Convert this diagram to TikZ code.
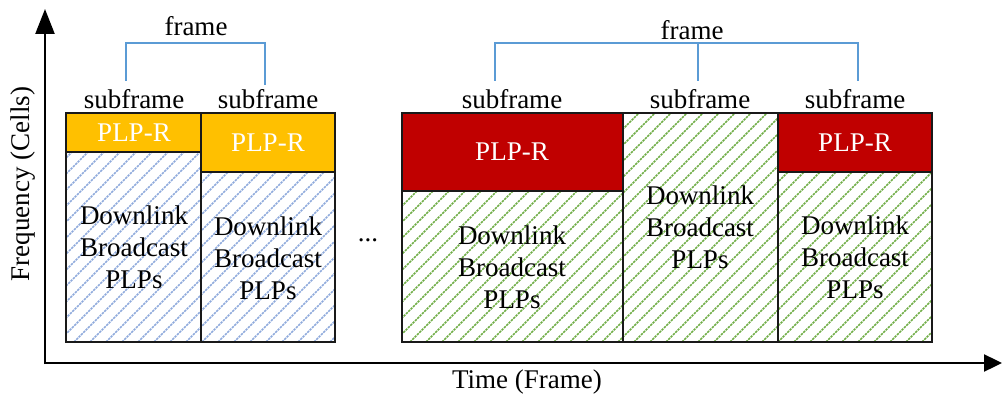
\documentclass[tikz,border=0pt]{standalone}
\usepackage{fontspec}
\setmainfont{Liberation Serif}
\usetikzlibrary{arrows.meta}

\definecolor{plpgold}{HTML}{FFC000}
\definecolor{plpred}{HTML}{C00000}
\definecolor{hatchblue}{HTML}{8FAADC}
\definecolor{hatchgreen}{HTML}{70AD47}
\definecolor{bracketblue}{HTML}{5B9BD5}

% diagonal hatching of a rectangle: x1, y1, x2, y2, colour
\newcommand\hatchrect[5]{%
  \begin{scope}
    \clip (#1,#2) rectangle (#3,#4);
    \foreach \c in {0,16,...,1408}
      \draw[#5, line width=1.5pt, dash pattern=on 2.4pt off 0.9pt] (\c-#4,#4) -- (\c-#2,#2);
  \end{scope}}

\tikzset{
  lbl/.style={font=\fontsize{27}{32}\selectfont, inner sep=0pt},
  bodytext/.style={lbl, align=center},
  plptext/.style={lbl, text=white},
  boxline/.style={draw=black!90, line width=1.5pt},
  axisline/.style={line width=2.4pt},
  bracket/.style={draw=bracketblue, line width=2.4pt},
}

\begin{document}
\begin{tikzpicture}[x=1pt, y=-1pt]
\useasboundingbox (0,0) rectangle (1002,396);

% ---- coloured regions ----
\fill[plpgold] (66,113) rectangle (201,152);
\hatchrect{66}{152}{201}{342}{hatchblue}
\fill[plpgold] (201,113) rectangle (335,172);
\hatchrect{201}{172}{335}{342}{hatchblue}
\fill[plpred] (402,113) rectangle (623,191);
\hatchrect{402}{191}{623}{342}{hatchgreen}
\hatchrect{623}{113}{778}{342}{hatchgreen}
\fill[plpred] (778,113) rectangle (932,172);
\hatchrect{778}{172}{932}{342}{hatchgreen}

% ---- subframe outlines ----
\draw[boxline] (66,113) rectangle (201,342);
\draw[boxline] (66,152) -- (201,152);
\draw[boxline] (201,113) rectangle (335,342);
\draw[boxline] (201,172) -- (335,172);
\draw[boxline] (402,113) rectangle (623,342);
\draw[boxline] (402,191) -- (623,191);
\draw[boxline] (623,113) rectangle (778,342);
\draw[boxline] (778,113) rectangle (932,342);
\draw[boxline] (778,172) -- (932,172);

% ---- texts inside subframes ----
\node[plptext] (r1) at (134,133) {PLP-R};
\node[plptext] (r2) at (268,143) {PLP-R};
\node[plptext] (r3) at (512,152) {PLP-R};
\node[plptext] (r5) at (855,143) {PLP-R};
\node[bodytext] (d1) at (134,247) {Downlink\\Broadcast\\PLPs};
\node[bodytext] (d2) at (268,258) {Downlink\\Broadcast\\PLPs};
\node[bodytext] (d3) at (512,267) {Downlink\\Broadcast\\PLPs};
\node[bodytext] (d4) at (700,227) {Downlink\\Broadcast\\PLPs};
\node[bodytext] (d5) at (855,257) {Downlink\\Broadcast\\PLPs};

% ---- subframe labels ----
\node[lbl, anchor=base] (s1) at (134,109) {subframe};
\node[lbl, anchor=base] (s2) at (268,109) {subframe};
\node[lbl, anchor=base] (s3) at (512,109) {subframe};
\node[lbl, anchor=base] (s4) at (700,109) {subframe};
\node[lbl, anchor=base] (s5) at (855,109) {subframe};

% ---- frame brackets ----
\node[lbl, anchor=base] (f1) at (196,36) {frame};
\node[lbl, anchor=base] (f2) at (692,40) {frame};
\coordinate (a1) at (126,81);
\coordinate (a2) at (265,85);
\draw[bracket] (a1) |- (195,43) -| (a2);
\coordinate (c1) at (495,81);
\coordinate (c2) at (698,81);
\coordinate (c3) at (858,81);
\draw[bracket] (c1) |- (c3 |- 0,43) -- (c3);
\draw[bracket] (c2) -- (c2 |- 0,43);

% ---- gap between frames ----
\node[lbl, anchor=base] (dots) at (368,241) {...};

% ---- axes ----
\coordinate (o) at (45,363);
\coordinate (yo) at (45,364.2);
\coordinate (ytip) at (45,9);
\coordinate (xtip) at (1002,363);
\draw[axisline, -{Triangle[length=25pt,width=19pt]}] (yo) -- (ytip);
\draw[axisline, -{Triangle[length=18pt,width=17pt]}] (o) -- (xtip);
\node[lbl] (xl) at (527,382) {Time (Frame)};
\node[lbl, rotate=90] (yl) at (23,184) {Frequency (Cells)};
\end{tikzpicture}
\end{document}
